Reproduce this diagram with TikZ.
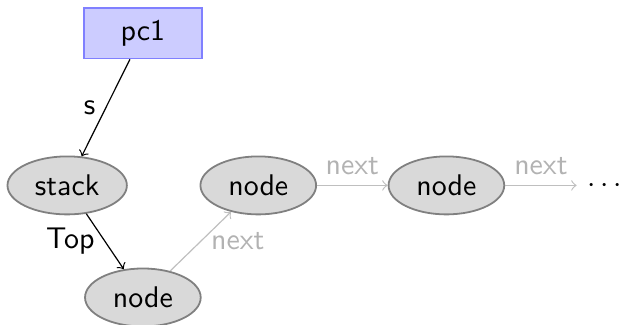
\documentclass[tikz,border=0pt]{standalone}
\usepackage{tikz}
\usetikzlibrary{arrows,shapes.geometric}
\tikzstyle{pc}=[rectangle,fill=blue!20,draw=blue!50,line width=0.6pt,
  minimum width=1.39cm,minimum height=0.59cm]
\tikzstyle{obj}=[ellipse,fill=gray!30,draw=gray,line width=0.6pt,
  minimum width=1.36cm,minimum height=0.62cm]
\tikzstyle{ptr}=[->,black]
\tikzstyle{nxt}=[->,gray!50]
\tikzstyle{none}=[]

\begin{document}
\begin{tikzpicture}[every node/.style={font=\sffamily}]
            \useasboundingbox (-0.79,-1.635) rectangle (6.5,2.18);
            \node [style=pc] (pc1) at (0.89, 1.788) {pc1};
            \node [style=obj] (stk) at (0, 0) {stack};
            \node [style=obj] (n0) at (0.89, -1.318) {node};
            \node [style=obj] (n1) at (2.247, 0) {node};
            \node [style=obj] (n2) at (4.459, 0) {node};
            \node [style=none] (dots) at (6.32, 0) {$\cdots$};
            \draw [style=ptr] (pc1) to node [left] {s} (stk);
            \draw [style=ptr] (stk) to node [left] {Top} (n0);
            \draw [style=nxt] (n0) to node [right, text=gray!60] {next} (n1);
            \draw [style=nxt] (n1) to node [above, text=gray!60] {next} (n2);
            \draw [style=nxt] (n2) to node [above, text=gray!60] {next} (dots);
    \end{tikzpicture}
\end{document}
